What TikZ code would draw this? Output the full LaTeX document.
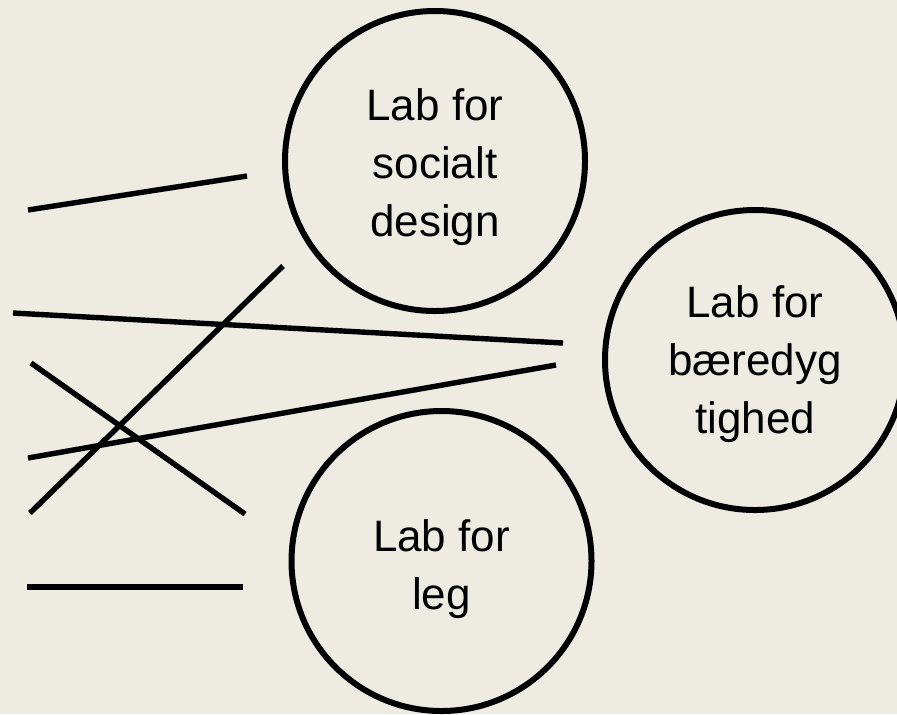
\documentclass[tikz,border=0pt]{standalone}
\usepackage{fontspec}
\setmainfont{Liberation Sans}
\definecolor{bgbeige}{RGB}{238,235,227}
\begin{document}
\begin{tikzpicture}[x=0.5pt,y=-0.5pt,
  lab/.style={circle,draw=black,line width=3pt,minimum size=150pt,inner sep=0pt},
  labtext/.style={align=center,inner sep=0pt,font=\fontsize{22pt}{29pt}\selectfont},
  stroke/.style={line width=2.7pt,draw=black}]
\fill[bgbeige] (0,0) rectangle (897,714);
\useasboundingbox (0,0) rectangle (897,714);
\begin{scope}
\clip (0,0) rectangle (897,714);
\node[lab] (social) at (435,161) {};
\node[lab] (baer) at (755,360) {};
\node[lab] (leg) at (441.5,561) {};
\end{scope}
\node[labtext] (socialtxt) at (435,167.5) {Lab for\\socialt\\design};
\node[labtext] (baertxt) at (755,364.5) {Lab for\\bæredyg\\tighed};
\node[labtext] (legtxt) at (441.5,569) {Lab for\\leg};
\coordinate (a1) at (28,210);
\coordinate (a2) at (247,176);
\coordinate (b1) at (13,313);
\coordinate (b2) at (563,343);
\coordinate (c1) at (283,266);
\coordinate (c2) at (30,513);
\coordinate (d1) at (31,363);
\coordinate (d2) at (245,514);
\coordinate (e1) at (28,458);
\coordinate (e2) at (556,365);
\coordinate (f1) at (27,587);
\coordinate (f2) at (243,587);
\draw[stroke] (a1) -- (a2);
\draw[stroke] (b1) -- (b2);
\draw[stroke] (c1) -- (c2);
\draw[stroke] (d1) -- (d2);
\draw[stroke] (e1) -- (e2);
\draw[stroke,line width=3.3pt] (f1) -- (f2);
\end{tikzpicture}
\end{document}
